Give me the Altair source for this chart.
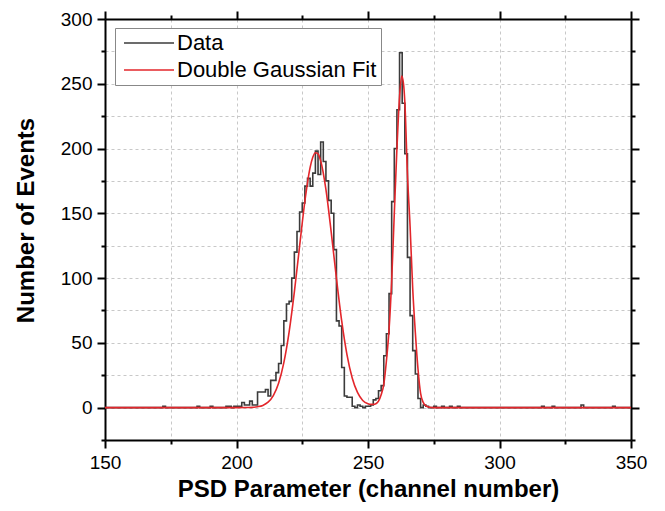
import altair as alt
import pandas as pd

# ---- histogram (channel -> events); all other channels are 0
hist_channels = [172, 185, 190, 196, 197, 199, 200, 201, 202, 203, 204, 205, 206, 207,
                 208, 209, 210, 211, 212, 213, 214, 215, 216, 217, 218, 219, 220, 221,
                 222, 223, 224, 225, 226, 227, 228, 229, 230, 231, 232, 233, 234, 235,
                 236, 237, 238, 239, 240, 241, 242, 243, 244, 246, 247, 249, 250, 251,
                 252, 253, 254, 255, 256, 257, 258, 259, 260, 261, 262, 263, 264, 265,
                 266, 267, 268, 269, 271, 272, 275, 278, 281, 284, 316, 320, 331, 343]
hist_counts = [1, 1, 1, 1, 1, 1, 1, 1, 4, 2, 2, 5, 2, 2,
               12, 12, 12, 14, 9, 21, 21, 27, 34, 48, 67, 80, 82, 100,
               120, 136, 151, 158, 171, 177, 171, 181, 198, 180, 205, 190, 175, 160,
               150, 122, 67, 63, 31, 9, 8, 8, 1, 2, 1, 1, 1, 2,
               6, 7, 13, 17, 40, 57, 88, 159, 200, 230, 274, 235, 196, 116,
               71, 44, 26, 7, 2, 1, 1, 1, 1, 1, 1, 1, 2, 1]

# ---- double Gaussian fit curve
fit_channels = [150, 200, 204, 206, 208, 210, 212, 214, 216, 218, 220, 222, 224, 226,
                228, 229, 230, 231, 232, 234, 236, 238, 240, 242, 244, 246, 248, 250,
                251, 252, 253, 254, 255, 256, 257, 258, 259, 260, 261, 262, 262.8, 263.5,
                264, 265, 266, 267, 268, 269, 270, 271, 272, 273, 275, 300, 350]
fit_counts = [0, 0, 0.1, 0.2, 0.7, 1.7, 4.2, 9.3, 18.8, 34.7, 58.3, 89.3, 124.8, 159.3,
              185.4, 193.2, 196.8, 195.9, 190.6, 168.4, 135.6, 99.8, 66.9, 40.9, 22.9, 11.7, 5.5, 3.0,
              2.5, 2.5, 3.0, 5.0, 10, 18, 36, 60, 98, 150, 200, 240, 256, 250,
              236, 180, 140, 92, 58, 30, 11, 4, 1.5, 0.5, 0, 0, 0]

x_ticks = [150, 175, 200, 225, 250, 275, 300, 325, 350]
y_ticks = [-25, 0, 25, 50, 75, 100, 125, 150, 175, 200, 225, 250, 275, 300]
series_names = ["Data", "Double Gaussian Fit"]
series_colors = ["#3b3b3b", "#e3262b"]

lookup = dict(zip(hist_channels, hist_counts))
all_channels = list(range(150, 351))
hist_df = pd.DataFrame({
    "channel": all_channels,
    "count": [lookup.get(c, 0) for c in all_channels],
    "series": series_names[0],
})
fit_df = pd.DataFrame({"channel": fit_channels, "count": fit_counts, "series": series_names[1]})

FONT = "Liberation Sans"
x_scale = alt.Scale(domain=[150, 350], nice=False, zero=False)
y_scale = alt.Scale(domain=[-25, 300], nice=False, zero=False)
color_scale = alt.Scale(domain=series_names, range=series_colors)

tick_size = {"condition": {"test": "datum.value % 50 === 0", "value": 8}, "value": 4}

common = dict(domainColor="black", domainWidth=2, tickColor="black", tickWidth=2,
              tickSize=tick_size, labelFont=FONT, labelFontSize=19, labelColor="black",
              labelFlush=False, labelOverlap=False,
              titleFont=FONT, titleFontSize=24, titleFontWeight="bold", titleColor="black")

legend = alt.Legend(
    title=None, orient="none", legendX=10, legendY=9,
    fillColor="white", strokeColor="#888888", padding=4,
    labelFont=FONT, labelFontSize=22, labelColor="black", labelLimit=400,
    symbolType="M-5,0H5", symbolSize=100, symbolStrokeWidth=1.5,
    symbolOffset=19, labelOffset=17, rowPadding=5,
)

hist = alt.Chart(hist_df).mark_line(interpolate="step-after", strokeWidth=1.6).encode(
    x=alt.X("channel:Q", scale=x_scale,
            axis=alt.Axis(orient="bottom", values=x_ticks, title="PSD Parameter (channel number)",
                          labelExpr="datum.value % 50 === 0 ? datum.label : ''",
                          labelPadding=5, titlePadding=5,
                          grid=True, gridColor="#c8c8c8", gridDash=[3, 3], gridWidth=1, **common)),
    y=alt.Y("count:Q", scale=y_scale,
            axis=alt.Axis(orient="left", values=y_ticks, title="Number of Events",
                          labelExpr="datum.value % 50 === 0 && datum.value >= 0 ? datum.label : ''",
                          labelPadding=5, titlePadding=22, titleY=201,
                          grid=True, gridColor="#c8c8c8", gridDash=[3, 3], gridWidth=1, **common)),
    color=alt.Color("series:N", scale=color_scale, legend=legend),
)

fit = alt.Chart(fit_df).mark_line(interpolate="monotone", strokeWidth=1.6).encode(
    x=alt.X("channel:Q", scale=x_scale,
            axis=alt.Axis(orient="top", values=x_ticks, labels=False, title="", grid=False, **common)),
    y=alt.Y("count:Q", scale=y_scale,
            axis=alt.Axis(orient="right", values=y_ticks, labels=False, title="", grid=False, **common)),
    color=alt.Color("series:N", scale=color_scale, legend=legend),
)

chart = alt.layer(hist, fit).resolve_axis(x="independent", y="independent").properties(
    width=526, height=421,
    padding={"left": 97, "top": 11, "right": 26, "bottom": 63},
    autosize=alt.AutoSizeParams(type="none"),
).configure_view(stroke=None)

chart.save("out.html", embed_options={"renderer": "svg", "actions": False})
